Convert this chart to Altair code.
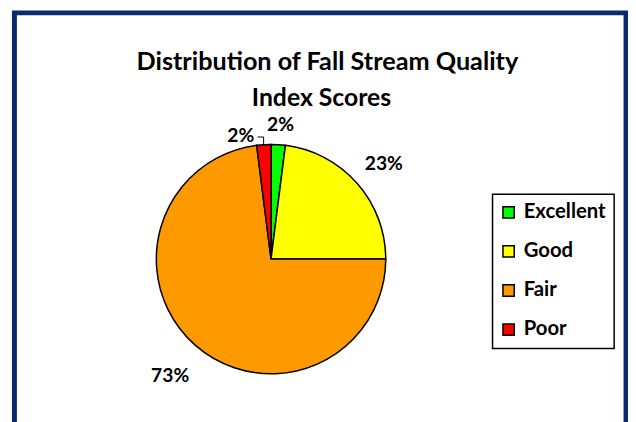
import math
import altair as alt
import pandas as pd

categories = ["Excellent", "Good", "Fair", "Poor"]
percents = [2, 23, 73, 2]
pct_labels = ["2%", "23%", "73%", "2%"]
colors = ["#00FF00", "#FFFF00", "#FF9900", "#FF0000"]
title_lines = ["Distribution of Fall Stream Quality", "Index Scores"]

df = pd.DataFrame({
    "category": categories,
    "value": percents,
    "label": pct_labels,
    "idx": list(range(len(categories))),
})

FONT = "Lato"
CX, CY = 259.5, 249
R = 116

theta_scale = alt.Scale(domain=[0, 100], range=[0, 2 * math.pi])

base = alt.Chart(df)

pie = base.mark_arc(outerRadius=R, stroke="black", strokeWidth=1.5).encode(
    theta=alt.Theta("value:Q", stack=True, scale=theta_scale),
    order=alt.Order("idx:Q"),
    color=alt.Color(
        "category:N",
        scale=alt.Scale(domain=categories, range=colors),
        legend=alt.Legend(
            title=None,
            orient="none",
            legendX=483.5,
            legendY=183.5,
            direction="vertical",
            symbolType="square",
            symbolSize=130,
            symbolStrokeColor="black",
            symbolStrokeWidth=1.5,
            symbolOffset=-2,
            labelFont=FONT,
            labelFontSize=20.5,
            labelFontWeight="bold",
            labelColor="black",
            labelOffset=5,
            rowPadding=18.5,
            padding=8,
            strokeColor="black",
        ),
    ),
    x=alt.value(CX),
    y=alt.value(CY),
)

labeled = base.transform_window(
    cum="sum(value)", sort=[alt.SortField("idx")]
).transform_calculate(mid="datum.cum - datum.value / 2")

label_specs = {
    "Excellent": dict(radius=136, dx=1, dy=0),
    "Good": dict(radius=148, dx=3, dy=2),
    "Fair": dict(radius=155, dx=0.5, dy=1.7),
    "Poor": dict(radius=128, dx=-22.5, dy=3.7),
}

text_layers = []
for cat, spec in label_specs.items():
    text_layers.append(
        labeled.transform_filter(alt.datum.category == cat)
        .mark_text(
            radius=spec["radius"], dx=spec["dx"], dy=spec["dy"],
            font=FONT, fontSize=19.5, fontWeight="bold", color="black",
            align="center", baseline="middle",
        )
        .encode(
            theta=alt.Theta("mid:Q", scale=theta_scale),
            text="label:N",
            x=alt.value(CX),
            y=alt.value(CY),
        )
    )

leader_h = base.transform_filter(alt.datum.category == "Poor").mark_rule(
    color="black", strokeWidth=1
).encode(x=alt.value(CX - 13.5), x2=alt.value(CX - 7.5), y=alt.value(125.5))
leader_v = base.transform_filter(alt.datum.category == "Poor").mark_rule(
    color="black", strokeWidth=1
).encode(x=alt.value(CX - 7.5), y=alt.value(125.5), y2=alt.value(134.5))

title_df = pd.DataFrame({"line": title_lines})
title1 = alt.Chart(title_df).transform_filter(
    alt.datum.line == title_lines[0]
).mark_text(
    font=FONT, fontSize=25.5, fontWeight="bold", color="black",
    align="center", baseline="alphabetic",
).encode(text="line:N", x=alt.value(316.5), y=alt.value(57.5))
title2 = alt.Chart(title_df).transform_filter(
    alt.datum.line == title_lines[1]
).mark_text(
    font=FONT, fontSize=25, fontWeight="bold", color="black",
    align="center", baseline="alphabetic",
).encode(text="line:N", x=alt.value(310.5), y=alt.value(94.5))

chart = alt.layer(
    pie, *text_layers, leader_h, leader_v, title1, title2
).properties(
    width=618.5,
    height=430,
    padding={"left": 6.5, "top": 2.5, "right": 2, "bottom": 0},
    autosize=alt.AutoSizeParams(type="none"),
    background="white",
).configure_view(
    stroke="#0B2A6B", strokeWidth=5
).configure_legend(
    strokeWidth=1.5
)

chart.save("out.html", embed_options={"renderer": "svg", "actions": False})
